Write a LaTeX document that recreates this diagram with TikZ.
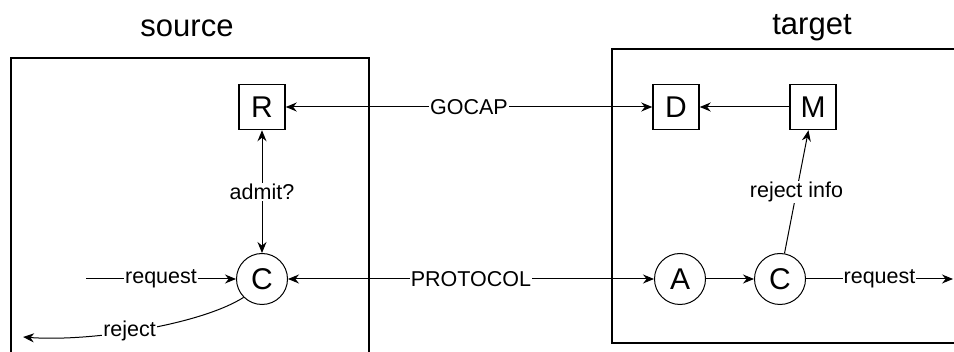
\documentclass[tikz,border=0pt]{standalone}
\usepackage{fontspec}
\setmainfont{Liberation Sans}
\usetikzlibrary{arrows.meta}

\begin{document}
\begin{tikzpicture}[x=1pt,y=-1pt,
  box/.style={draw,line width=1.5pt,minimum width=46pt,minimum height=45pt,inner sep=0pt,
    font=\fontsize{30}{30}\selectfont},
  proc/.style={draw,circle,line width=1pt,minimum size=51pt,inner sep=0pt,
    font=\fontsize{30}{30}\selectfont},
  frame/.style={draw,line width=1.8pt},
  tip/.tip={Stealth[length=11pt,width=9pt]},
  flow/.style={line width=1pt,-tip},
  twoway/.style={line width=1pt,tip-tip},
  lbl/.style={fill=white,inner sep=1pt,font=\fontsize{21.5}{21.5}\selectfont},
  title/.style={font=\fontsize{31}{31}\selectfont}
]
\useasboundingbox (0,0) rectangle (954,352);
\clip (0,0) rectangle (954,352);

% system frames
\draw[frame] (11,58) rectangle (369,370);
\draw[frame] (612,49) rectangle (970,343);
\node[title] (srcT) at (187,28) {source};
\node[title] (tgtT) at (812,28) {target};

% source side
\node[box] (R) at (262,107) {R};
\node[proc] (Cs) at (262,279) {C};
\coordinate (inS) at (86,279);
\coordinate (rejE) at (23,337);

% target side
\node[box] (D) at (676,107) {D};
\node[box] (M) at (813,107) {M};
\node[proc] (A) at (680,279) {A};
\node[proc] (Ct) at (780,279) {C};
\coordinate (outT) at (953,279);

% connectors
\draw[twoway] (R) -- node[lbl] (gocap) {GOCAP} (D);
\draw[twoway] (Cs) -- node[lbl] (proto) {PROTOCOL} (A);
\draw[twoway] (R) -- node[lbl] (admit) {admit?} (Cs);
\draw[flow] (inS) -- node[lbl] (reqS) {request} (Cs);
\draw[flow] (Cs.225) .. controls (200,325) and (90,342) .. node[lbl,pos=0.55] (rej) {reject} (rejE);
\draw[flow] (M) -- (D);
\draw[flow] (A) -- (Ct);
\draw[flow] (Ct) -- node[lbl] (reqT) {request} (outT);
\draw[flow] (Ct.80) -- node[lbl] (rinfo) {reject info} (M);
\end{tikzpicture}
\end{document}
